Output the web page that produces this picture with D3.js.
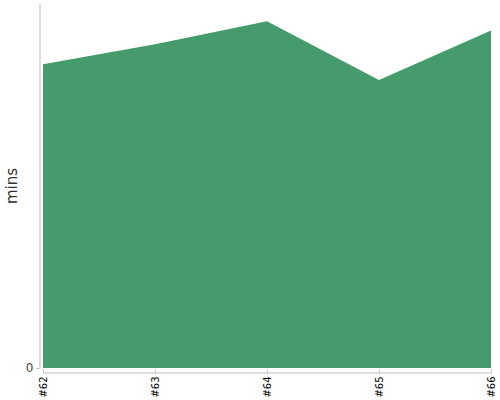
<!DOCTYPE html>
<html>
<head>
<meta charset="utf-8">
<script src="https://cdn.jsdelivr.net/npm/d3@7"></script>
<style>
  body { margin: 0; background: #fff; }
  .axis path, .axis line { stroke: #bbb; }
  .axis text { font-family: "DejaVu Sans", sans-serif; }
</style>
</head>
<body>
<script>
    const builds = ['#62', '#63', '#64', '#65', '#66']
    const mins = [50.1, 53.4, 57.2, 47.5, 55.7]

    const W = 500, H = 400
    const m = { top: 4, right: 9, bottom: 32, left: 43 }
    const iw = W - m.left - m.right
    const ih = H - m.top - m.bottom

    const svg = d3.select('body').append('svg')
        .attr('width', W)
        .attr('height', H)

    const x = d3.scalePoint().domain(builds).range([m.left, m.left + iw])
    const y = d3.scaleLinear().domain([0, d3.max(mins) * 1.05]).range([m.top + ih, m.top])

    const data = builds.map((b, i) => ({ b: b, v: mins[i] }))

    const area = d3.area()
        .x(d => x(d.b))
        .y0(y(0))
        .y1(d => y(d.v))

    svg.append('path')
        .datum(data)
        .attr('d', area)
        .attr('fill', '#459b6c')

    // y axis, pushed a bit left of the plot
    const yAxis = svg.append('g')
        .attr('class', 'axis')
        .attr('transform', `translate(${m.left - 3.5},0)`)
        .call(d3.axisLeft(y).tickValues([0]).tickSize(3).tickSizeOuter(0))
    yAxis.selectAll('text').attr('font-size', 12).attr('fill', '#444').attr('x', -6)

    // x axis, pushed a bit below
    const xAxis = svg.append('g')
        .attr('class', 'axis')
        .attr('transform', `translate(0,${m.top + ih + 4.5})`)
        .call(d3.axisBottom(x).tickSize(-3).tickSizeOuter(0))
    xAxis.selectAll('text')
        .attr('font-size', 10)
        .attr('fill', '#000')
        .attr('transform', 'rotate(-90)')
        .attr('text-anchor', 'end')
        .attr('x', -4)
        .attr('y', 0)
        .attr('dy', '0.35em')

    svg.append('text')
        .attr('transform', `translate(17,${m.top + ih / 2}) rotate(-90)`)
        .attr('text-anchor', 'middle')
        .attr('font-family', '"DejaVu Sans", sans-serif')
        .attr('font-size', 15)
        .attr('fill', '#333')
        .text('mins')
</script>
</body>
</html>
